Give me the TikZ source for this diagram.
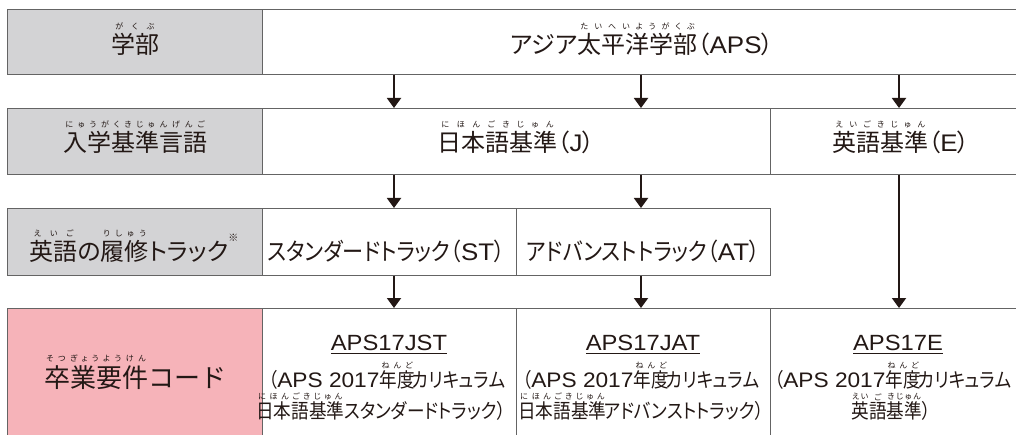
\documentclass[tikz,border=0pt]{standalone}
\usepackage{fontspec}
\setmainfont{Noto Sans CJK JP}[Script=CJK, RawFeature=+palt]
\newfontfamily\jpmono{Noto Sans CJK JP}
\newfontfamily\kanafont{Noto Sans CJK JP}[Script=CJK, RawFeature=+palt, FakeStretch=0.88]
\newfontfamily\latinfont{Liberation Sans}[FakeStretch=1.08]
\usetikzlibrary{arrows.meta}

\definecolor{labelgray}{RGB}{211,211,213}
\definecolor{codepink}{RGB}{246,179,185}
\definecolor{rulegray}{RGB}{100,100,100}
\definecolor{ink}{RGB}{35,24,21}

% furigana above a word, spread over its width
\newlength\rubygap \setlength\rubygap{4pt}
\def\spreadkana#1{\ifx#1\relax\else\hfil#1\hfil\expandafter\spreadkana\fi}
\newcommand\ruby[2]{\leavevmode\setbox0\hbox{#1}%
  \rlap{\raisebox{\dimexpr\ht0+\rubygap\relax}[0pt][0pt]{\hbox to\wd0{\rmfamily\fontsize{8}{8}\selectfont\spreadkana#2\relax}}}#1}
\newcommand\uline[1]{\leavevmode\setbox0\hbox{#1}\rlap{\rule[-3.5pt]{\wd0}{1pt}}\box0}
\newcommand\lat[1]{{\latinfont #1}}
\newcommand\latd[1]{{\latinfont\fontsize{21}{21}\selectfont #1}}

\begin{document}
\begin{tikzpicture}[x=1pt, y=-1pt,
  cell/.style={draw=rulegray, line width=0.8pt, anchor=north west, inner sep=0pt},
  hd/.style={anchor=base, inner sep=0pt, text=ink, font=\fontsize{24}{24}\selectfont},
  trkname/.style={hd, font=\kanafont\fontsize{24}{24}\selectfont},
  code/.style={anchor=base, inner sep=0pt, text=ink, font=\latinfont\fontsize{22}{22}\selectfont},
  desc/.style={anchor=base, inner sep=0pt, text=ink, font=\kanafont\fontsize{20}{20}\selectfont\setlength\rubygap{1.5pt}},
  arr/.style={-{Triangle[width=14pt,length=10pt]}, line width=1.9pt, draw=ink}]

\useasboundingbox (0,0) rectangle (1016,435);
\clip (0,0) rectangle (1016,435);
\fill[white] (0,0) rectangle (1016,435);

% rows of cells
\node[cell, fill=labelgray, minimum width=255pt, minimum height=65pt] (fac) at (7,9) {};
\node[cell, minimum width=768pt, minimum height=65pt] (apsc) at (262,9) {};

\node[cell, fill=labelgray, minimum width=255pt, minimum height=66pt] (adm) at (7,108) {};
\node[cell, minimum width=508pt, minimum height=66pt] (jp) at (262,108) {};
\node[cell, minimum width=260pt, minimum height=66pt] (en) at (770,108) {};

\node[cell, fill=labelgray, minimum width=255pt, minimum height=67pt] (trk) at (7,208) {};
\node[cell, minimum width=254pt, minimum height=67pt] (stdtrk) at (262,208) {};
\node[cell, minimum width=254pt, minimum height=67pt] (advtrk) at (516,208) {};

\node[cell, fill=codepink, minimum width=255pt, minimum height=140pt] (req) at (7,308) {};
\node[cell, minimum width=254pt, minimum height=140pt] (jstcode) at (262,308) {};
\node[cell, minimum width=254pt, minimum height=140pt] (jatcode) at (516,308) {};
\node[cell, minimum width=260pt, minimum height=140pt] (ecode) at (770,308) {};

% arrows
\coordinate (colA) at (394,0);
\coordinate (colB) at (641,0);
\coordinate (colC) at (899,0);
\draw[arr] (apsc.south -| colA) -- (jp.north -| colA);
\draw[arr] (apsc.south -| colB) -- (jp.north -| colB);
\draw[arr] (apsc.south -| colC) -- (en.north -| colC);
\draw[arr] (jp.south -| colA) -- (stdtrk.north -| colA);
\draw[arr] (jp.south -| colB) -- (advtrk.north -| colB);
\draw[arr] (stdtrk.south -| colA) -- (jstcode.north -| colA);
\draw[arr] (advtrk.south -| colB) -- (jatcode.north -| colB);
\draw[arr] (en.south -| colC) -- (ecode.north -| colC);

% texts
\node[hd] (facl) at (135,53.5) {\ruby{学部}{がくぶ}};
\node[hd] (apst) at (642,53.5) {アジア\ruby{太平洋学部}{たいへいようがくぶ}（\lat{APS}）};

\node[hd] (adml) at (135,152) {\ruby{入学基準言語}{にゅうがくきじゅんげんご}};
\node[hd] (jpt) at (516,152) {\ruby{日本語基準}{にほんごきじゅん}（\lat{J}）};
\node[hd] (ent) at (901,152) {\ruby{英語基準}{えいごきじゅん}（\lat{E}）};

\node[hd] (trkl) at (134,261) {\ruby{英語}{えいご}の\ruby{履修}{りしゅう}トラック\raisebox{19pt}{\fontsize{10}{10}\selectfont ※}};
\node[trkname] (stdt) at (386,261) {スタンダードトラック（\lat{ST}）};
\node[trkname] (advt) at (643,261) {アドバンストトラック（\lat{AT}）};

\node[hd, font=\jpmono\fontsize{26}{26}\selectfont] (reql) at (135,387) {\ruby{卒業要件}{そつぎょうようけん}コード};

\node[code] (jstc) at (389,350) {\uline{APS17JST}};
\node[desc] (jstd1) at (387,387) {（\latd{APS 2017}\ruby{年度}{ねんど}\kern-2.5pt カリキュラム};
\node[desc] (jstd2) at (381,418) {\ruby{日本語基準}{にほんごきじゅん}スタンダードトラック）};

\node[code] (jatc) at (643,350) {\uline{APS17JAT}};
\node[desc] (jatd1) at (641,387) {（\latd{APS 2017}\ruby{年度}{ねんど}\kern-2.5pt カリキュラム};
\node[desc] (jatd2) at (641,418) {\ruby{日本語基準}{にほんごきじゅん}\kern-2.5pt アドバンストトラック）};

\node[code] (ec) at (898,350) {\uline{APS17E}};
\node[desc] (ed1) at (893,387) {（\latd{APS 2017}\ruby{年度}{ねんど}\kern-2.5pt カリキュラム};
\node[desc] (ed2) at (891,418) {\ruby{英}{えい}\ruby{語}{ご}\ruby{基準}{きじゅん}）};

\end{tikzpicture}
\end{document}
